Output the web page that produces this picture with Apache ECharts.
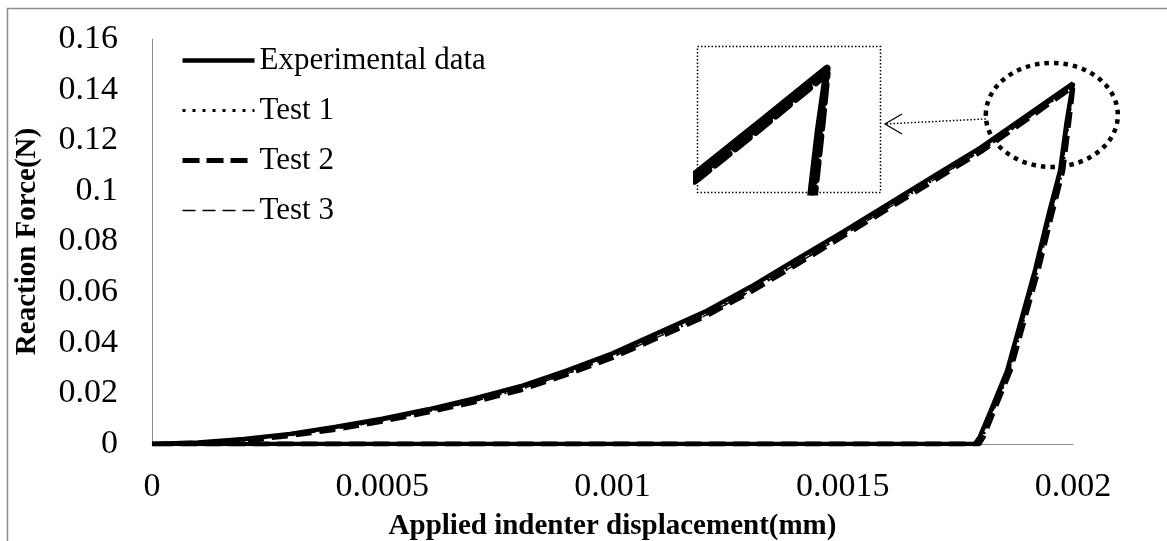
<!DOCTYPE html>
<html>
<head>
<meta charset="utf-8">
<title>Reaction force</title>
<script src="https://cdn.jsdelivr.net/npm/echarts@6/dist/echarts.min.js"></script>
<style>
  html, body { margin: 0; padding: 0; background: #fff; }
  #main { width: 1167px; height: 541px; }
</style>
</head>
<body>
<div id="main"></div>
<script>
// loading branch
var loadX = [0, 0.0001, 0.0002, 0.0003, 0.0004, 0.0005, 0.0006, 0.0007, 0.0008, 0.0009, 0.001,
             0.0011, 0.0012, 0.0013, 0.0014, 0.0015, 0.0016, 0.0017, 0.0018, 0.0019, 0.002];
var expLoad   = [0, 0.0006, 0.0020, 0.0040, 0.0068, 0.0100, 0.0137, 0.0180, 0.0228, 0.0290, 0.0358,
                 0.0440, 0.0522, 0.0621, 0.0730, 0.0838, 0.0949, 0.1061, 0.1172, 0.1298, 0.1425];
var test1Load = [0, 0.0004, 0.0016, 0.0036, 0.0062, 0.0094, 0.0130, 0.0171, 0.0218, 0.0279, 0.0346,
                 0.0426, 0.0508, 0.0606, 0.0714, 0.0826, 0.0937, 0.1048, 0.1160, 0.1286, 0.1415];
var test2Load = [0, 0.0003, 0.0014, 0.0033, 0.0058, 0.0090, 0.0126, 0.0166, 0.0213, 0.0274, 0.0341,
                 0.0421, 0.0503, 0.0601, 0.0709, 0.0820, 0.0931, 0.1043, 0.1155, 0.1282, 0.1412];
var test3Load = [0, 0.0004, 0.0015, 0.0035, 0.0060, 0.0092, 0.0128, 0.0169, 0.0216, 0.0277, 0.0344,
                 0.0424, 0.0506, 0.0604, 0.0712, 0.0823, 0.0934, 0.1046, 0.1158, 0.1284, 0.1414];

// unloading branch: force levels and the displacement of each curve
var unloadF    = [0.127, 0.108, 0.090, 0.069, 0.050, 0.029, 0.013, 0.003, 0];
var expUnload  = [0.001986, 0.001972, 0.001946, 0.001918, 0.001889, 0.001857, 0.001821, 0.001798, 0.001787];
var t1Unload   = [0.001990, 0.001977, 0.001951, 0.001923, 0.001894, 0.001862, 0.001826, 0.001804, 0.001794];
var t2Unload   = [0.001991, 0.001978, 0.001953, 0.001925, 0.001896, 0.001864, 0.001828, 0.001806, 0.001796];
var t3Unload   = [0.001990, 0.001976, 0.001951, 0.001923, 0.001894, 0.001862, 0.001826, 0.001804, 0.001795];

var names = ['Experimental data', 'Test 1', 'Test 2', 'Test 3'];
var xTicks = { min: 0, max: 0.002, interval: 0.0005 };
var yTicks = { min: 0, max: 0.16, interval: 0.02 };

// zoomed inset window and the circled region
var insetX = [0.001798, 0.002082];
var insetY = [0.1122, 0.1479];
var circleCenter = [0.001954, 0.130];

function curve(load, unloadX) {
    var pts = loadX.map(function (x, i) { return [x, load[i]]; });
    unloadF.forEach(function (f, i) { pts.push([unloadX[i], f]); });
    pts.push([0, 0]);
    return pts;
}
var curves = [
    curve(expLoad, expUnload),
    curve(test1Load, t1Unload),
    curve(test2Load, t2Unload),
    curve(test3Load, t3Unload)
];

var FONT = "'Liberation Serif', 'Times New Roman', serif";
var styles = [
    { width: 4.5, type: 'solid', z: 5 },
    { width: 3, type: [2, 5], z: 4 },
    { width: 5, type: [16, 8], z: 3 },
    { width: 1.5, type: [12, 7], z: 2 }
];
var legendStyles = [
    { width: 4.5, type: 'solid' },
    { width: 3, type: [3, 7] },
    { width: 5, type: [17, 7] },
    { width: 1.5, type: [13, 7] }
];
var insetStyles = [
    { width: 7, type: 'solid' },
    { width: 4, type: [2, 5] },
    { width: 7, type: [18, 8] },
    { width: 2.5, type: [14, 7] }
];

var series = [];
curves.forEach(function (d, i) {
    series.push({
        name: names[i], type: 'line', data: d, symbol: 'none', showSymbol: false, z: styles[i].z,
        itemStyle: { color: '#000' },
        lineStyle: { color: '#000', width: styles[i].width, type: styles[i].type, cap: 'butt' },
        xAxisIndex: 0, yAxisIndex: 0
    });
});
curves.forEach(function (d, i) {
    series.push({
        name: names[i], type: 'line', data: d, symbol: 'none', showSymbol: false, z: styles[i].z, clip: true,
        itemStyle: { color: '#000' },
        lineStyle: { color: '#000', width: insetStyles[i].width, type: insetStyles[i].type, cap: 'round', join: 'round' },
        xAxisIndex: 1, yAxisIndex: 1
    });
});

var myChart = echarts.init(document.getElementById('main'));
myChart.setOption({
    animation: false,
    backgroundColor: '#fff',
    legend: {
        data: names.map(function (n, i) {
            return { name: n, lineStyle: { color: '#000', width: legendStyles[i].width, type: legendStyles[i].type } };
        }),
        orient: 'vertical',
        left: 180, top: 45, padding: 0,
        itemWidth: 72, itemHeight: 30, itemGap: 19,
        itemStyle: { opacity: 0 },
        textStyle: { fontFamily: FONT, fontSize: 31, color: '#000' },
        selectedMode: false
    },
    grid: [
        { left: 152, top: 39, right: 94, bottom: 97, containLabel: false, outerBoundsMode: 'none' },
        { left: 697, top: 46, width: 183, height: 146, containLabel: false, outerBoundsMode: 'none' }
    ],
    xAxis: [{
        type: 'value', gridIndex: 0,
        min: xTicks.min, max: xTicks.max, interval: xTicks.interval,
        name: 'Applied indenter displacement(mm)', nameLocation: 'middle', nameGap: 68,
        nameTextStyle: { fontFamily: FONT, fontSize: 29, fontWeight: 'bold', color: '#000' },
        axisLine: { show: true, lineStyle: { color: '#8c8c8c', width: 1 } },
        axisTick: { show: false }, splitLine: { show: false },
        axisLabel: { fontFamily: FONT, fontSize: 34, color: '#000', margin: 26 }
    }, {
        type: 'value', gridIndex: 1, min: insetX[0], max: insetX[1], show: false
    }],
    yAxis: [{
        type: 'value', gridIndex: 0,
        min: yTicks.min, max: yTicks.max, interval: yTicks.interval,
        name: 'Reaction Force(N)', nameLocation: 'middle', nameGap: 110,
        nameTextStyle: { fontFamily: FONT, fontSize: 29, fontWeight: 'bold', color: '#000' },
        axisLine: { show: true, lineStyle: { color: '#8c8c8c', width: 1 } },
        axisTick: { show: false }, splitLine: { show: false },
        axisLabel: { fontFamily: FONT, fontSize: 34, color: '#000', margin: 34 }
    }, {
        type: 'value', gridIndex: 1, min: insetY[0], max: insetY[1], show: false
    }],
    series: series
});

// annotations: outer frame, dotted circle, inset frame and arrow
var c = myChart.convertToPixel({ gridIndex: 0 }, circleCenter);
var rx = 66, ry = 52;
var ins = { x: 697, y: 46, w: 183, h: 146 };
var tipX = ins.x + ins.w + 5, tipY = ins.y + 78;
myChart.setOption({
    graphic: [
        { type: 'rect', silent: true, shape: { x: 7.5, y: 8.5, width: 1300, height: 700 },
          style: { fill: 'none', stroke: '#8c8c8c', lineWidth: 1.5 } },
        { type: 'ellipse', silent: true, z: 10, shape: { cx: c[0], cy: c[1], rx: rx, ry: ry },
          style: { fill: 'none', stroke: '#000', lineWidth: 4.5, lineDash: [4.5, 5] } },
        { type: 'rect', silent: true, z: 10, shape: { x: ins.x + 0.5, y: ins.y + 0.5, width: ins.w, height: ins.h },
          style: { fill: 'none', stroke: '#000', lineWidth: 1.5, lineDash: [1.5, 2] } },
        { type: 'line', silent: true, z: 10, shape: { x1: c[0] - rx, y1: c[1] + 4, x2: tipX, y2: tipY },
          style: { stroke: '#000', lineWidth: 1.5, lineDash: [1.5, 2] } },
        { type: 'polyline', silent: true, z: 10,
          shape: { points: [[tipX + 17, tipY - 10], [tipX, tipY], [tipX + 17, tipY + 10]] },
          style: { fill: 'none', stroke: '#000', lineWidth: 1.3 } }
    ]
});

window.addEventListener('resize', function () {
    myChart.resize();
});
</script>
</body>
</html>
